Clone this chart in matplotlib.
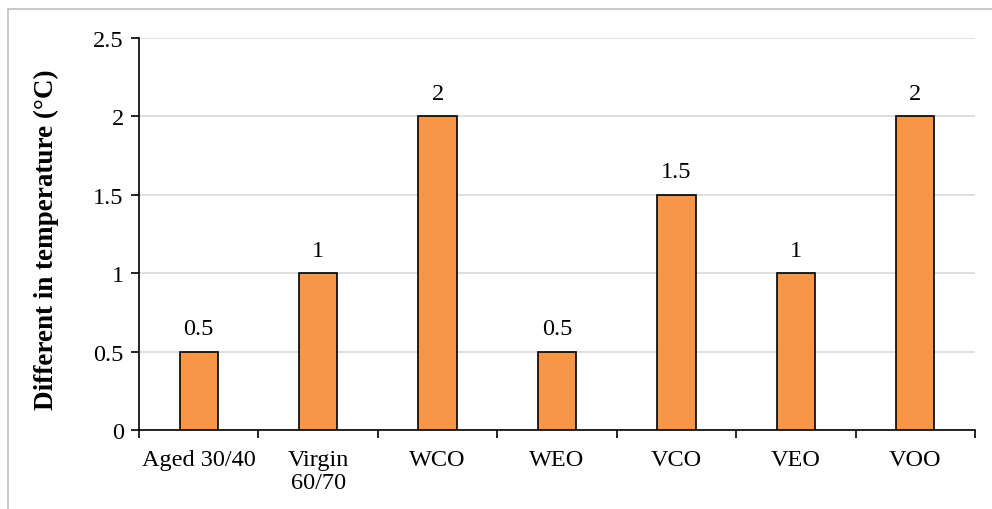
import matplotlib.pyplot as plt
import numpy as np

categories = ['Aged 30/40', 'Virgin\n60/70', 'WCO', 'WEO', 'VCO', 'VEO', 'VOO']
values = [0.5, 1, 2, 0.5, 1.5, 1, 2]
value_labels = ['0.5', '1', '2', '0.5', '1.5', '1', '2']
yticks = [0, 0.5, 1, 1.5, 2, 2.5]
ytick_labels = ['0', '0.5', '1', '1.5', '2', '2.5']

plt.rcParams['font.family'] = ['Liberation Serif', 'DejaVu Serif']

fig = plt.figure(figsize=(9.92, 5.1), dpi=100)
ax = fig.add_axes([139 / 992, 1 - 431 / 510, 836 / 992, 392 / 510])

# outer chart border
fig.add_artist(plt.Rectangle((8 / 992, -0.05), 1.0, 1 - 10 / 510 + 0.05,
                             transform=fig.transFigure, fill=False,
                             edgecolor='#bfbfbf', linewidth=1.2))

x = np.arange(len(categories))
bars = ax.bar(x, values, width=0.32, color='#F79646', edgecolor='black',
              linewidth=1.2, zorder=3)

for xi, v, lab in zip(x, values, value_labels):
    ax.text(xi, v + 0.08, lab, ha='center', va='bottom', fontsize=17.5)

ax.set_xlim(-0.5, len(categories) - 0.5)
ax.set_ylim(0, 2.5)
ax.set_yticks(yticks)
ax.set_yticklabels(ytick_labels, fontsize=17.5)
ax.set_xticks(x)
ax.set_xticklabels(categories, fontsize=17.5, linespacing=1.1)
ax.tick_params(axis='x', length=0, pad=14)
ax.set_xticks(np.arange(len(categories) + 1) - 0.5, minor=True)
ax.tick_params(axis='x', which='minor', length=6, width=1.2, direction='out')
ax.tick_params(axis='y', length=6, width=1.2, direction='out', pad=5)

ax.grid(axis='y', color='#d9d9d9', linewidth=1.2, zorder=0)
for s in ['top', 'right']:
    ax.spines[s].set_visible(False)
ax.spines['left'].set_linewidth(1.2)
ax.spines['bottom'].set_linewidth(1.2)

# y-axis title
fig.text(46 / 992, 1 - 240 / 510, 'Different in temperature (°C)', rotation=90,
         ha='center', va='center', fontsize=19.5, fontweight='bold')

fig.savefig('out.png', dpi=100)
